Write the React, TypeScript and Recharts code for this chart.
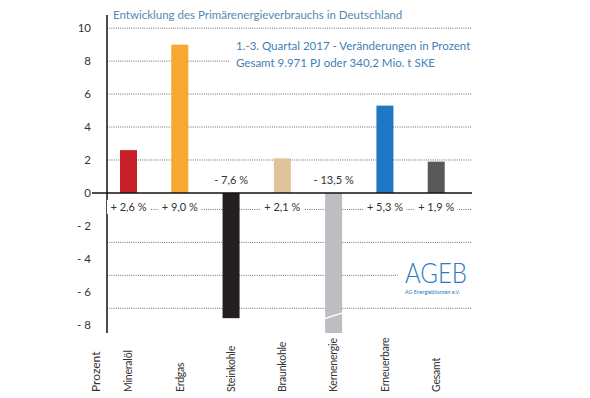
import { Bar, BarChart, CartesianGrid, Cell, LabelList, ReferenceLine, XAxis, YAxis } from "recharts";

const CATEGORIES = ["Mineralöl", "Erdgas", "Steinkohle", "Braunkohle", "Kernenergie", "Erneuerbare", "Gesamt"];
const CHANGES = [2.6, 9.0, -7.6, 2.1, -13.5, 5.3, 1.9];
const COLORS = ["#c8202a", "#f6a833", "#231f20", "#dfc49b", "#bdbec1", "#1f78c3", "#59595b"];
const Y_TICKS = [-8, -6, -4, -2, 0, 2, 4, 6, 8, 10];
const GRID_VALUES = [-8, -7, -6, -5, -4, -3, -2, -1, 1, 2, 3, 4, 5, 6, 7, 8, 9, 10];
const Y_MIN = -8.5;
const Y_MAX = 10.8;

const TITLE = "Entwicklung des Primärenergieverbrauchs in Deutschland";
const SUBTITLE = ["1.-3. Quartal 2017 - Veränderungen in Prozent", "Gesamt 9.971 PJ oder 340,2 Mio. t SKE"];

const data = CATEGORIES.map((name, i) => ({ name, value: CHANGES[i] }));

const W = 590;
const H = 398;
const PLOT_TOP = 15;
const PLOT_BOTTOM = 333;
const FOOT_Y = 392;
const BLUE = "#3f80b5";
const TEXT = "#333";
const FONT = "Lato, sans-serif";

const fmtTick = (v: number) => (v < 0 ? `- ${Math.abs(v)}` : `${v}`);
const fmtPct = (v: number) => `${v < 0 ? "-" : "+"} ${Math.abs(v).toFixed(1).replace(".", ",")} %`;

function BarShape(props: any) {
  const { x, y, width, height, fill, value } = props;
  const top = Math.min(y, y + height);
  const bottom = Math.min(Math.max(y, y + height), PLOT_BOTTOM);
  const broken = value < Y_MIN;
  const by = PLOT_BOTTOM - 19;
  return (
    <g>
      <rect x={x} y={top} width={width} height={bottom - top} fill={fill} />
      {broken && (
        <polygon
          points={`${x - 1},${by + 4} ${x + width + 1},${by - 2} ${x + width + 1},${by - 0.5} ${x - 1},${by + 5.5}`}
          fill="#fff"
        />
      )}
    </g>
  );
}

function ValueLabel(props: any) {
  const { x, y, width, height, value } = props;
  const zero = value >= 0 ? Math.max(y, y + height) : Math.min(y, y + height);
  const cx = x + width / 2;
  const cy = value >= 0 ? zero + 14 : zero - 13;
  const text = fmtPct(value);
  const w = text.length * 5 + 8;
  return (
    <g>
      <rect x={cx - w / 2} y={cy - 7} width={w} height={14} fill="#fff" />
      <text x={cx} y={cy} dy="0.35em" textAnchor="middle" fontSize={11} fill={TEXT} fontFamily={FONT}>
        {text}
      </text>
    </g>
  );
}

function CatTick(props: any) {
  const { x, payload } = props;
  return (
    <text
      transform={`translate(${x},${FOOT_Y}) rotate(-90)`}
      dy="0.35em"
      textAnchor="start"
      fontSize={10.5}
      letterSpacing={-0.2}
      fill={TEXT}
      fontFamily={FONT}
    >
      {payload.value}
    </text>
  );
}

function ZeroLine(props: any) {
  const { x1, y1, x2, y2 } = props;
  return <line x1={x1 - 15} y1={y1} x2={x2} y2={y2} stroke="#111" strokeWidth={1.5} />;
}

export default function App() {
  return (
    <div style={{ position: "fixed", left: 0, top: 0, width: W, height: H, background: "#fff" }}>
      <BarChart width={W} height={H} data={data} margin={{ top: PLOT_TOP, right: 118, bottom: 0, left: 0 }}>
        <CartesianGrid vertical={false} horizontalValues={GRID_VALUES} stroke="#6a6a6a" strokeDasharray="1 1.2" />
        <XAxis
          dataKey="name"
          axisLine={false}
          tickLine={false}
          interval={0}
          height={H - PLOT_BOTTOM}
          padding={{ left: -4, right: 10 }}
          tick={<CatTick />}
        />
        <YAxis
          width={107}
          domain={[Y_MIN, Y_MAX]}
          allowDataOverflow
          ticks={Y_TICKS}
          tickFormatter={fmtTick}
          tickLine={false}
          tickMargin={10}
          axisLine={{ stroke: "#111", strokeWidth: 1.5 }}
          tick={{ fontSize: 11.5, fill: TEXT, fontFamily: FONT }}
        />
        <ReferenceLine y={0} shape={<ZeroLine />} />
        <Bar dataKey="value" barSize={17} isAnimationActive={false} shape={<BarShape />}>
          {data.map((_, i) => (
            <Cell key={i} fill={COLORS[i]} />
          ))}
          <LabelList dataKey="value" content={<ValueLabel />} />
        </Bar>
      </BarChart>
      <svg width={W} height={H} style={{ position: "absolute", left: 0, top: 0, pointerEvents: "none" }}>
        <text x={113} y={19} fontSize={11.5} fill="#5589b2" fontFamily={FONT}>
          {TITLE}
        </text>
        <rect x={230} y={34} width={245} height={37} fill="#fff" />
        {SUBTITLE.map((line, i) => (
          <text key={i} x={236} y={50 + i * 17} fontSize={11.5} fill={BLUE} fontFamily={FONT}>
            {line}
          </text>
        ))}
        <rect x={398} y={255} width={77} height={43} fill="#fff" />
        <text
          x={405}
          y={283}
          fontSize={27}
          fontWeight={300}
          fill="#2a7bbf"
          fontFamily={FONT}
          textLength={62}
          lengthAdjust="spacingAndGlyphs"
        >
          AGEB
        </text>
        <text
          x={405}
          y={294}
          fontSize={6.5}
          fill="#2a7bbf"
          fontFamily={FONT}
          textLength={55}
          lengthAdjust="spacingAndGlyphs"
        >
          AG Energiebilanzen e.V.
        </text>
        <text transform={`translate(96,${FOOT_Y}) rotate(-90)`} dy="0.35em" fontSize={12} fill={TEXT} fontFamily={FONT}>
          Prozent
        </text>
      </svg>
    </div>
  );
}
